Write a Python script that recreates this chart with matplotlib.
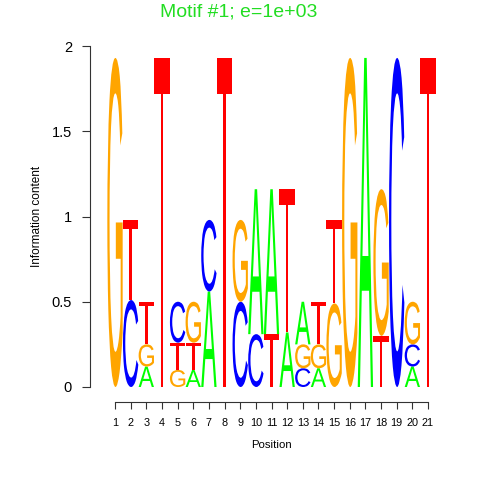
import matplotlib
matplotlib.use("Agg")
import matplotlib.pyplot as plt
from matplotlib.textpath import TextPath
from matplotlib.font_manager import FontProperties
from matplotlib.patches import PathPatch
from matplotlib.transforms import Affine2D

positions = list(range(1, 22))
# information content per letter at each position
A = [0, 0, 0.12, 0, 0, 0.10, 0.56, 0, 0, 0.85, 0.85, 0.32, 0.25, 0.11, 0, 0, 1.93, 0, 0, 0.12, 0]
C = [0, 0.51, 0, 0, 0.24, 0, 0.42, 0, 0.50, 0.31, 0, 0, 0.11, 0, 0, 0, 0, 0, 1.93, 0.13, 0]
G = [1.93, 0, 0.13, 0, 0.10, 0.24, 0, 0, 0.48, 0, 0, 0, 0.14, 0.14, 0.49, 1.93, 0, 0.86, 0, 0.25, 0]
T = [0, 0.47, 0.25, 1.93, 0.16, 0.16, 0, 1.93, 0, 0, 0.31, 0.84, 0, 0.25, 0.49, 0, 0, 0.30, 0, 0, 1.93]
# stacking order (bottom to top) per position
stack_order = ["G", "CT", "AGT", "T", "GTC", "ATG", "AC", "T", "CG", "CA", "TA",
               "AT", "CGA", "AGT", "GT", "G", "A", "TG", "C", "ACG", "T"]
yticks = [0, 0.5, 1, 1.5, 2]
ytick_labels = ["0", "0.5", "1", "1.5", "2"]
title = "Motif #1; e=1e+03"

heights = {"A": A, "C": C, "G": G, "T": T}
colors = {"A": "#00FF00", "C": "#0000FF", "G": "#FFA500", "T": "#FF0000"}

W, H = 480, 480
fig = plt.figure(figsize=(4.8, 4.8), dpi=100)
x0px, x1px = 90, 440
y0px, y1px = 387, 46
ax = fig.add_axes([x0px / W, (H - y0px) / H, (x1px - x0px) / W, (y0px - y1px) / H])
pxu = (428 - 115) / 20.0
ax.set_xlim(1 - (115 - x0px) / pxu, 1 + (x1px - 115) / pxu)
ax.set_ylim(0, 2)

fp = FontProperties(family="Liberation Sans")
glyphs = {}
for L in "ACGT":
    p = TextPath((0, 0), L, prop=fp, size=1)
    glyphs[L] = p

def draw_letter(L, xc, ybot, h, width=0.98):
    p = glyphs[L]
    ext = p.get_extents()
    tr = (Affine2D().translate(-ext.x0, -ext.y0)
          .scale(width / ext.width, h / ext.height)
          .translate(xc - width / 2, ybot))
    patch = PathPatch(tr.transform_path(p), facecolor=colors[L], edgecolor="none", lw=0)
    ax.add_patch(patch)

for i, pos in enumerate(positions):
    ybase = 0.0
    for L in stack_order[i]:
        h = heights[L][i]
        if h > 0:
            draw_letter(L, pos, ybase, h)
            ybase += h

for s in ["top", "right"]:
    ax.spines[s].set_visible(False)
ax.spines["left"].set_bounds(0, 2)
ax.spines["bottom"].set_bounds(1, 21)
ax.spines["bottom"].set_position(("outward", 11))
for s in ["left", "bottom"]:
    ax.spines[s].set_color("#333333")
    ax.spines[s].set_linewidth(0.8)

ax.set_yticks(yticks)
ax.set_yticklabels(ytick_labels, fontsize=10.5, family="Liberation Sans")
ax.set_xticks(positions)
ax.set_xticklabels([str(p) for p in positions], fontsize=7.8, family="Liberation Sans")
ax.tick_params(axis="y", length=6, width=0.8, color="#333333", pad=7)
ax.tick_params(axis="x", length=5, width=0.8, color="#333333", pad=6)

fig.text(271 / W, 1 - 445 / H, "Position", ha="center", va="center",
         fontsize=8.2, family="Liberation Sans")
fig.text(37 / W, 1 - 216 / H, "Information content", ha="center", va="center",
         rotation=90, fontsize=8.5, family="Liberation Sans")
fig.text(239 / W, 1 - 12 / H, title, ha="center", va="center",
         fontsize=14, color="#22DD22", family="Liberation Sans")

fig.savefig("out.png", dpi=100)
